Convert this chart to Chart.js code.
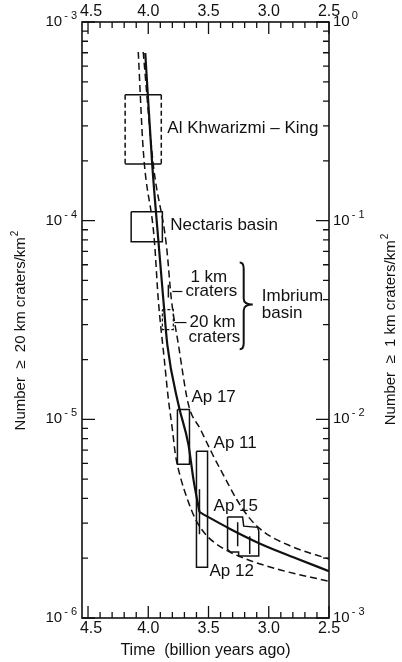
<!DOCTYPE html>
<html>
<head>
<meta charset="utf-8">
<script src="https://cdn.jsdelivr.net/npm/chart.js@4.4.1/dist/chart.umd.min.js"></script>
<style>
  body { margin: 0; background: #fff; }
  #wrap { width: 402px; height: 662px; position: relative; }
</style>
</head>
<body>
<div id="wrap"><canvas id="myChart"></canvas></div>
<script>
// time axis ticks (billion years ago)
const timeTicks = [4.5, 4.0, 3.5, 3.0, 2.5];
const leftDecades = [-6, -5, -4, -3];
const rightDecades = [-3, -2, -1, 0];

// best-fit curve (solid), steep part and late part
const solidT = [4.025, 3.967, 3.917, 3.875, 3.842, 3.75, 3.667, 3.625, 3.575];
const solidN = [6.98e-4, 1.91e-4, 8.04e-5, 4.01e-5, 2.38e-5, 1.19e-5, 7.48e-6, 4.99e-6, 3.41e-6];
const lateT = [3.575, 3.317, 3.067, 2.775, 2.5];
const lateN = [3.41e-6, 2.80e-6, 2.36e-6, 2.00e-6, 1.72e-6];

// envelope curves (dashed)
const lowerT = [4.083, 4.042, 3.95, 3.917, 3.867, 3.833, 3.8, 3.775, 3.733, 3.675, 3.608, 3.525, 3.4, 3.233, 2.925, 2.5];
const lowerN = [7.06e-4, 2.28e-4, 8.04e-5, 4.01e-5, 2.0e-5, 1.26e-5, 8.91e-6, 6.67e-6, 5.12e-6, 3.96e-6, 3.14e-6, 2.64e-6, 2.28e-6, 2.03e-6, 1.76e-6, 1.53e-6];
const upperT = [4.042, 3.958, 3.85, 3.808, 3.75, 3.667, 3.567, 3.467, 3.367, 3.267, 3.167, 3.05, 2.817, 2.5];
const upperN = [7.06e-4, 1.91e-4, 7.57e-5, 4.01e-5, 2.38e-5, 1.19e-5, 8.91e-6, 6.67e-6, 5.12e-6, 3.96e-6, 3.22e-6, 2.74e-6, 2.30e-6, 1.98e-6];

// dated surfaces: [t1, t2] and [N1, N2]
const akT = [4.192, 3.892], akN = [4.3e-4, 1.93e-4];
const nectT = [4.142, 3.883], nectN = [1.11e-4, 7.84e-5];
const imb20T = [3.883, 3.792], imb20N = [3.57e-5, 2.83e-5];
const imb1T = [3.833, 3.833], imb1N = [4.76e-5, 4.10e-5];
const ap17T = [3.758, 3.658], ap17N = [1.12e-5, 5.94e-6];
const ap11T = [3.6, 3.508], ap11N = [6.9e-6, 1.80e-6];
const ap11barT = [3.575, 3.575], ap11barN = [4.45e-6, 2.64e-6];
const ap1512T = [3.342, 3.217, 3.208, 3.092, 3.083, 3.083, 3.25, 3.25, 3.317, 3.342, 3.342];
const ap1512N = [3.22e-6, 3.22e-6, 2.90e-6, 2.86e-6, 2.74e-6, 2.05e-6, 2.05e-6, 2.15e-6, 2.15e-6, 2.22e-6, 3.22e-6];
const ap15barT = [3.258, 3.258], ap15barN = [3.03e-6, 2.30e-6];
const ap12barT = [3.158, 3.158], ap12barN = [2.58e-6, 2.10e-6];
const lead1T = [3.8, 3.717], lead1N = [4.40e-5, 4.40e-5];
const lead20T = [3.783, 3.683], lead20N = [3.07e-5, 3.07e-5];

function pts(ts, ns) {
  return ts.map((t, i) => ({ x: t, y: ns[i] }));
}
function rect(ts, ns) {
  return pts([ts[0], ts[1], ts[1], ts[0], ts[0]], [ns[0], ns[0], ns[1], ns[1], ns[0]]);
}

function line(data, opts) {
  return Object.assign({
    data: data, showLine: true, pointRadius: 0, borderColor: '#111',
    borderWidth: 1.5, tension: 0, fill: false
  }, opts || {});
}

const dashCurve = [7, 4];
const datasets = [
  line(pts(solidT, solidN), { borderWidth: 2.2, cubicInterpolationMode: 'monotone', tension: 0.4 }),
  line(pts(lateT, lateN), { borderWidth: 2.2, cubicInterpolationMode: 'monotone', tension: 0.4 }),
  line(pts(lowerT, lowerN), { borderDash: dashCurve, cubicInterpolationMode: 'monotone', tension: 0.4 }),
  line(pts(upperT, upperN), { borderDash: dashCurve, cubicInterpolationMode: 'monotone', tension: 0.4 }),
  // Al Khwarizmi-King: solid top/bottom, dashed sides
  line(pts([akT[0], akT[1]], [akN[0], akN[0]])),
  line(pts([akT[0], akT[1]], [akN[1], akN[1]])),
  line(pts([akT[0], akT[0]], akN), { borderDash: [5, 3] }),
  line(pts([akT[1], akT[1]], akN), { borderDash: [5, 3] }),
  line(rect(nectT, nectN)),
  line(rect(imb20T, imb20N), { borderDash: [3, 2], borderWidth: 1.2 }),
  line(pts(imb1T, imb1N)),
  line(rect(ap17T, ap17N)),
  line(rect(ap11T, ap11N)),
  line(pts(ap11barT, ap11barN)),
  line(pts(ap1512T, ap1512N)),
  line(pts(ap15barT, ap15barN)),
  line(pts(ap12barT, ap12barN)),
  line(pts(lead1T, lead1N), { borderWidth: 1.2 }),
  line(pts(lead20T, lead20N), { borderWidth: 1.2 })
];

const labels = [
  { text: 'Al Khwarizmi \u2013 King', t: 3.842, n: 2.93e-4 },
  { text: 'Nectaris basin', t: 3.817, n: 9.44e-5 },
  { text: '1 km', t: 3.65, n: 5.18e-5 },
  { text: 'craters', t: 3.692, n: 4.40e-5 },
  { text: '20 km', t: 3.658, n: 3.07e-5 },
  { text: 'craters', t: 3.667, n: 2.58e-5 },
  { text: 'Imbrium', t: 3.058, n: 4.15e-5 },
  { text: 'basin', t: 3.058, n: 3.41e-5 },
  { text: 'Ap 17', t: 3.642, n: 1.29e-5 },
  { text: 'Ap 11', t: 3.458, n: 7.57e-6 },
  { text: 'Ap 15', t: 3.458, n: 3.66e-6 },
  { text: 'Ap 12', t: 3.492, n: 1.72e-6 }
];
const brace = { t: 3.208, tip: 3.133, top: 6.15e-5, mid: 3.79e-5, bottom: 2.25e-5 };

const FONT = '"Liberation Sans", Arial, Helvetica, sans-serif';

function pow10(ctx, x, y, exp, align) {
  const e = exp < 0 ? '- ' + (-exp) : String(exp);
  ctx.font = '15px ' + FONT;
  const w1 = ctx.measureText('10').width;
  ctx.font = '11px ' + FONT;
  const w2 = ctx.measureText(e).width;
  const x0 = align === 'right' ? x - w1 - 2 - w2 : x;
  ctx.textAlign = 'left';
  ctx.textBaseline = 'middle';
  ctx.font = '15px ' + FONT;
  ctx.fillText('10', x0, y);
  ctx.font = '11px ' + FONT;
  ctx.fillText(e, x0 + w1 + 2, y - 6);
}

function vTitle(ctx, cx, cy, text) {
  ctx.save();
  ctx.translate(cx, cy);
  ctx.rotate(-Math.PI / 2);
  ctx.font = '15px ' + FONT;
  const w1 = ctx.measureText(text).width;
  ctx.font = '10px ' + FONT;
  const w2 = ctx.measureText('2').width;
  const x0 = -(w1 + w2) / 2;
  ctx.textAlign = 'left';
  ctx.textBaseline = 'middle';
  ctx.font = '15px ' + FONT;
  ctx.fillText(text, x0, 0);
  ctx.font = '10px ' + FONT;
  ctx.fillText('2', x0 + w1 + 1, -6);
  ctx.restore();
}

const framePlugin = {
  id: 'frame',
  afterDraw(chart) {
    const ctx = chart.ctx;
    const a = chart.chartArea;
    const x = chart.scales.x, y = chart.scales.y, y2 = chart.scales.y2;
    ctx.save();
    ctx.strokeStyle = '#111';
    ctx.fillStyle = '#111';
    ctx.lineWidth = 1.6;
    ctx.strokeRect(a.left, a.top, a.right - a.left, a.bottom - a.top);

    // time ticks, top and bottom, inward
    ctx.lineWidth = 1.3;
    ctx.beginPath();
    for (let k = 0; k <= 20; k++) {
      const t = 4.5 - k * 0.1;
      const px = x.getPixelForValue(t);
      const len = k % 5 === 0 ? 12 : 6;
      ctx.moveTo(px, a.top); ctx.lineTo(px, a.top + len);
      ctx.moveTo(px, a.bottom); ctx.lineTo(px, a.bottom - len);
    }
    // log ticks, left and right, inward
    for (let e = -6; e <= -3; e++) {
      for (let m = 1; m <= 9; m++) {
        if (e === -3 && m > 1) break;
        const v = m * Math.pow(10, e);
        const py = y.getPixelForValue(v);
        const py2 = y2.getPixelForValue(v * 1000);
        const len = m === 1 ? 13 : 6;
        ctx.moveTo(a.left, py); ctx.lineTo(a.left + len, py);
        ctx.moveTo(a.right, py2); ctx.lineTo(a.right - len, py2);
      }
    }
    ctx.stroke();

    // time labels
    ctx.font = '16px ' + FONT;
    ctx.textAlign = 'center';
    ctx.textBaseline = 'middle';
    timeTicks.forEach(t => {
      const px = x.getPixelForValue(t);
      ctx.fillText(t.toFixed(1), px + (t === 4.5 ? 3 : 0), a.top - 10);
      ctx.fillText(t.toFixed(1), px + (t === 4.5 ? 3 : 0), a.bottom + 11);
    });
    leftDecades.forEach(e => {
      pow10(ctx, a.left - 5, y.getPixelForValue(Math.pow(10, e)), e, 'right');
    });
    rightDecades.forEach(e => {
      pow10(ctx, a.right + 4, y2.getPixelForValue(Math.pow(10, e)), e, 'left');
    });

    // axis titles
    ctx.font = '16px ' + FONT;
    ctx.textAlign = 'center';
    ctx.fillText('Time  (billion years ago)', (a.left + a.right) / 2, 651);
    vTitle(ctx, 21, 331, 'Number  \u2265  20 km craters/km');
    vTitle(ctx, 391, 330, 'Number  \u2265  1 km craters/km');

    // annotations
    ctx.font = '17px ' + FONT;
    ctx.textAlign = 'left';
    labels.forEach(l => {
      ctx.fillText(l.text, x.getPixelForValue(l.t), y.getPixelForValue(l.n));
    });

    // brace for Imbrium basin
    const bx = x.getPixelForValue(brace.t);
    const tx = x.getPixelForValue(brace.tip);
    const bt = y.getPixelForValue(brace.top);
    const bm = y.getPixelForValue(brace.mid);
    const bb = y.getPixelForValue(brace.bottom);
    ctx.lineWidth = 2;
    ctx.beginPath();
    ctx.moveTo(bx - 4, bt);
    ctx.quadraticCurveTo(bx, bt, bx, bt + 6);
    ctx.lineTo(bx, bm - 6);
    ctx.quadraticCurveTo(bx, bm, tx, bm);
    ctx.quadraticCurveTo(bx, bm, bx, bm + 6);
    ctx.lineTo(bx, bb - 6);
    ctx.quadraticCurveTo(bx, bb, bx - 4, bb);
    ctx.stroke();
    ctx.restore();
  }
};

const ctx = document.getElementById('myChart').getContext('2d');
const chart = new Chart(ctx, {
  type: 'scatter',
  data: { datasets: datasets },
  options: {
    responsive: true,
    maintainAspectRatio: false,
    animation: false,
    layout: { padding: { left: 82, right: 73, top: 22, bottom: 44 } },
    plugins: { legend: { display: false }, tooltip: { enabled: false } },
    scales: {
      x: { type: 'linear', reverse: true, min: 2.5, max: 4.55, display: false },
      y: { type: 'logarithmic', min: 1e-6, max: 1e-3, display: false },
      y2: { type: 'logarithmic', position: 'right', min: 1e-3, max: 1, display: false }
    }
  },
  plugins: [framePlugin]
});
</script>
</body>
</html>
